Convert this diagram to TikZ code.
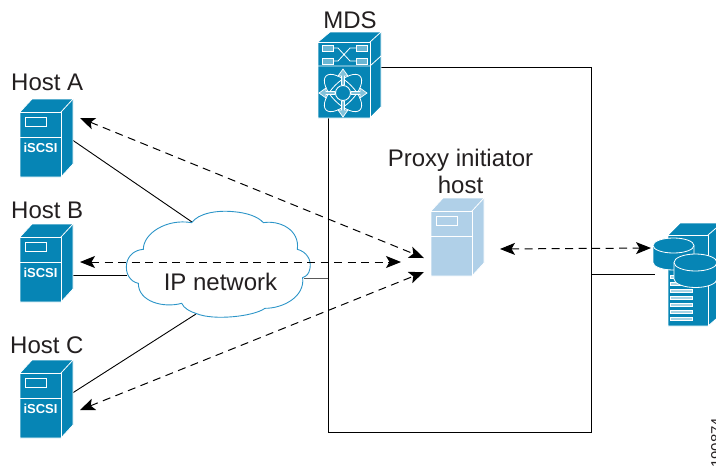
\documentclass[tikz,border=0pt]{standalone}
\usepackage{fontspec}
\setmainfont{Liberation Sans}
\usetikzlibrary{arrows.meta}
\definecolor{cisco}{HTML}{0685B5}
\definecolor{pale}{HTML}{B0D0E8}
\definecolor{cloudline}{HTML}{2C95C8}
\definecolor{inkc}{HTML}{231F20}
\tikzset{
  x=1pt,y=-1pt,
  lbl/.style={font=\fontsize{24}{26}\selectfont,text=inkc,inner sep=0pt},
  link/.style={draw=black,line width=0.9pt},
  dbl/.style={draw=black,line width=1pt,dash pattern=on 8pt off 5.5pt,{Stealth[length=15pt,width=12pt,inset=3.5pt]}-{Stealth[length=15pt,width=12pt,inset=3.5pt]}},
  facew/.style={draw=white,line width=0.8pt,line join=round},
  slot/.style={draw=white,line width=0.8pt,fill=cisco!60!white},
}
% server: #1 x shift, #2 y shift, #3 fill colour, #4 divider colour, #5 name, #6 extra text
\newcommand{\serverbox}[6]{%
  \begin{scope}[shift={(#1,#2)}]
    \filldraw[facew,fill=#3] (0,0) -- (12,-13) -- (53,-13) -- (53,52) -- (41,65) -- (0,65) -- cycle;
    \draw[facew] (0,0) -- (41,0) -- (41,65);
    \draw[facew] (41,0) -- (53,-13);
    \draw[draw=#4,line width=0.9pt] (0,25) -- (41,25);
    \draw[draw=#4,line width=0.9pt] (5,5) rectangle (26,14);
    \node[font=\bfseries\fontsize{13}{14}\selectfont,text=white,inner sep=0pt] (#5) at (20.5,36) {#6};
  \end{scope}}
% cylinder: #1 left x, #2 top centre y, #3 x radius, #4 y radius, #5 height
\newcommand{\drumshape}[5]{%
  \filldraw[facew,fill=cisco] (#1,#2) -- (#1,#2+#5)
    arc[start angle=180,end angle=0,x radius=#3,y radius=#4]
    -- (#1+2*#3,#2) arc[start angle=0,end angle=-180,x radius=#3,y radius=#4] -- cycle;
  \draw[facew] (#1,#2) arc[start angle=180,end angle=0,x radius=#3,y radius=#4];
}
\begin{document}
\begin{tikzpicture}
\useasboundingbox (0,0) rectangle (716,467);
\coordinate (boxTL) at (328,118);
\coordinate (boxTR) at (381,67);
\coordinate (boxC) at (591,67);
\coordinate (boxD) at (591,432);
\coordinate (boxE) at (328,432);
\draw[link] (boxTR) -- (boxC) -- (boxD) -- (boxE) -- (boxTL);

\coordinate (hAout) at (68,137);
\coordinate (hBout) at (73,275);
\coordinate (hCout) at (60,401);
\coordinate (clA) at (192,222);
\coordinate (clB) at (127,275);
\coordinate (clC) at (196,314);
\coordinate (clR) at (304,278);
\coordinate (boxL) at (328,278);
\coordinate (boxR) at (591,274);
\coordinate (stor) at (655,274);
\draw[link] (hAout) -- (clA);
\draw[link] (hBout) -- (clB);
\draw[link] (hCout) -- (clC);
\draw[link,draw=black!65] (clR) -- (boxL);
\draw[link] (boxR) -- (stor);

% cloud
\begin{scope}[shift={(110,200)},x=0.3333pt,y=-0.3333pt]
\draw[draw=cloudline,line width=0.9pt]
  (245,68) .. controls (265,40) and (320,30) .. (370,35)
  .. controls (410,38) and (445,50) .. (460,68)
  .. controls (510,60) and (570,90) .. (562,148)
  .. controls (590,155) and (605,180) .. (600,205)
  .. controls (597,222) and (590,228) .. (578,233)
  .. controls (585,290) and (520,325) .. (465,325)
  .. controls (430,350) and (310,362) .. (260,341)
  .. controls (240,335) and (222,325) .. (215,310)
  .. controls (160,325) and (85,305) .. (85,250)
  .. controls (60,245) and (45,220) .. (50,190)
  .. controls (55,165) and (75,150) .. (100,148)
  .. controls (100,100) and (170,55) .. (245,68) -- cycle;
\end{scope}
\node[lbl] (ipn) at (220.5,282) {IP network};

% servers
\serverbox{20}{112}{cisco}{white}{hostAbody}{iSCSI}
\serverbox{20}{237}{cisco}{white}{hostBbody}{iSCSI}
\serverbox{20}{373}{cisco}{white}{hostCbody}{iSCSI}
\serverbox{431}{211}{pale}{white}{proxybody}{}
\node[lbl,anchor=base west] (hostA) at (11,90) {Host A};
\node[lbl,anchor=base west] (hostB) at (11,218) {Host B};
\node[lbl,anchor=base west] (hostC) at (10,353) {Host C};
\node[lbl] (mds) at (350,20) {MDS};
\node[lbl] (proxy) at (460.5,160) {Proxy initiator};
\node[lbl] (phost) at (460.5,185) {host};

% MDS
\filldraw[facew,fill=cisco] (318,42) -- (330,32) -- (381,32) -- (381,107) -- (370,118) -- (318,118) -- cycle;
\draw[facew] (318,42) -- (370,42) -- (370,118);
\draw[facew] (370,42) -- (381,32);
\draw[facew] (318,66) -- (370,66) -- (381,56);
\draw[slot] (322,45) rectangle (333,51);
\draw[slot] (356,45) rectangle (367,51);
\draw[slot] (322,58) rectangle (333,64);
\draw[slot] (356,58) rectangle (367,64);
\draw[white,line width=0.8pt] (333,48) -- (338,48) -- (350,61) -- (356,61)
  (333,61) -- (338,61) -- (350,48) -- (356,48);
\begin{scope}[shift={(343,93)}]
\draw[white,line width=0.8pt,rotate=45] (0,0) ellipse (24 and 11);
\draw[white,line width=0.8pt,rotate=-45] (0,0) ellipse (24 and 11);
\foreach \a in {0,90,180,270}{
  \begin{scope}[rotate=\a]
  \filldraw[draw=white,line width=0.7pt,fill=cisco!50!white]
    (8,-1.5) -- (17,-1.5) -- (17,-5) -- (24,0) -- (17,5) -- (17,1.5) -- (8,1.5) -- cycle;
  \end{scope}}
\filldraw[draw=white,line width=0.9pt,fill=cisco] (0,0) circle (7.5);
\end{scope}

% storage
\filldraw[facew,fill=cisco] (668,235) -- (680,223) -- (722,223) -- (722,314) -- (708,326) -- (668,326) -- cycle;
\draw[facew] (668,235) -- (708,235) -- (708,326);
\draw[facew] (708,235) -- (722,223);
\foreach \yy in {275,282,289,296,303,310,317}{
  \draw[draw=white,line width=0.8pt,fill=cisco!35!white] (670,\yy) rectangle (692,\yy+3.5);
}
\drumshape{653}{245.5}{20.5}{7.5}{17}
\drumshape{674}{262.5}{21.5}{8.5}{16.5}

% dashed
\coordinate (dAl) at (80,118);
\coordinate (dAr) at (424,258);
\coordinate (dBl) at (80,262);
\coordinate (dBr) at (401,262);
\coordinate (dCl) at (80,410);
\coordinate (dCr) at (424,272);
\coordinate (dPl) at (500,249);
\coordinate (dPr) at (651,248);
\draw[dbl] (dAl) -- (dAr);
\draw[dbl] (dBl) -- (dBr);
\draw[dbl] (dCl) -- (dCr);
\draw[dbl] (dPl) -- (dPr);

\node[rotate=90,anchor=base west,font=\fontsize{15}{16}\selectfont,inner sep=0pt,text=inkc] (fig) at (721.5,468) {190874};
\end{tikzpicture}
\end{document}
